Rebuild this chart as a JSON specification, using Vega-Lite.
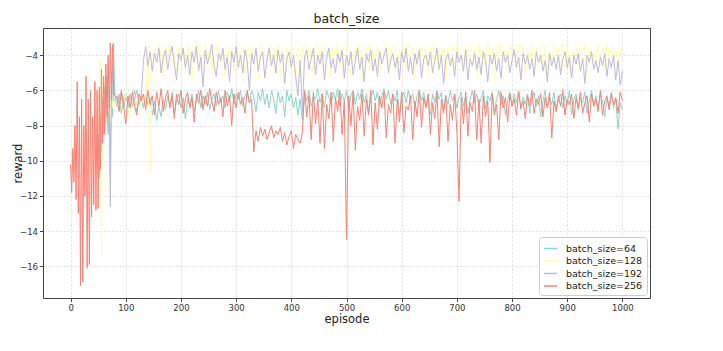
{
"$schema": "https://vega.github.io/schema/vega-lite/v6.json",
"width": 607, "height": 270,
"autosize": {"type": "none"},
"padding": {"left": 43, "top": 28, "right": 73, "bottom": 53},
"background": "white",
"title": {"text": "batch_size", "fontSize": 12.5, "fontWeight": "normal", "font": "DejaVu Sans", "color": "#222", "offset": 3},
"config": {
  "view": {"stroke": "#444", "strokeWidth": 1},
  "axis": {"labelFont": "DejaVu Sans", "labelFontSize": 8.5, "labelColor": "#333", "titleFont": "DejaVu Sans", "titleFontSize": 11.5, "titleFontWeight": "normal", "titleColor": "#222", "tickColor": "#444", "tickSize": 3.5, "domain": false, "gridColor": "#bbb", "gridDash": [2, 2], "gridOpacity": 0.6, "gridWidth": 0.8, "labelPadding": 2}
},
"data": {"values": [
{"e":0,"d":-10.2},{"e":2,"d":-11.8},{"e":4,"d":-9.3},{"e":6,"d":-11.2},{"e":8,"d":-8.0},{"e":10,"d":-12.2},{"e":12,"d":-5.5},{"e":14,"d":-13.0},{"e":16,"d":-7.5},{"e":18,"d":-17.1},{"e":20,"d":-6.5},{"e":22,"d":-16.9},{"e":24,"d":-8.0},{"e":26,"d":-12.0},{"e":28,"d":-5.2},{"e":30,"d":-16.1},{"e":32,"d":-6.5},{"e":34,"d":-15.9},{"e":36,"d":-6.0},{"e":38,"d":-13.2},{"e":40,"d":-7.5},{"e":42,"d":-12.5},{"e":44,"d":-5.5},{"e":46,"d":-12.8},
{"e":48,"a":-10.5,"b":-9.5,"c":-10.0,"d":-6.0},
{"e":50,"a":-9.0,"b":-8.0,"c":-8.5,"d":-12.7},
{"e":52,"a":-11.0,"b":-7.0,"c":-9.8,"d":-5.8},
{"e":54,"a":-8.0,"b":-4.2,"c":-7.5,"d":-10.5},
{"e":56,"a":-9.5,"b":-15.5,"c":-9.0,"d":-4.8},
{"e":58,"a":-7.0,"b":-6.0,"c":-6.5,"d":-9.0},
{"e":60,"a":-8.5,"b":-7.5,"c":-8.0,"d":-5.2},
{"e":62,"a":-6.5,"b":-5.5,"c":-5.8,"d":-8.5},
{"e":64,"a":-7.8,"b":-8.0,"c":-7.0,"d":-4.5},
{"e":66,"a":-5.2,"b":-6.0,"c":-6.0,"d":-7.5},
{"e":68,"a":-8.0,"b":-7.2,"c":-8.5,"d":-4.0},
{"e":70,"a":-6.0,"b":-6.5,"c":-6.8,"d":-7.0},
{"e":72,"a":-10.8,"b":-7.8,"c":-12.6,"d":-3.3},
{"e":74,"a":-5.0,"b":-6.0,"c":-6.0,"d":-6.5},
{"e":76,"a":-7.5,"b":-7.0,"c":-4.5,"d":-3.4},
{"e":78,"a":-3.3,"b":-6.2,"c":-6.5,"d":-6.0},
{"e":80,"a":-6.2,"b":-6.8,"c":-6.6,"d":-6.3},
{"e":84,"a":-6.9,"b":-6.6,"c":-6.3,"d":-6.4},
{"e":88,"a":-6.2,"b":-7.2,"c":-6.8,"d":-7.2},
{"e":92,"a":-7.3,"b":-6.3,"c":-6.1,"d":-6.0},
{"e":96,"a":-6.5,"b":-6.9,"c":-7.0,"d":-6.8},
{"e":100,"a":-6.1,"b":-6.0,"c":-6.4,"d":-7.9},
{"e":104,"a":-7.0,"b":-7.4,"c":-6.7,"d":-6.3},
{"e":108,"a":-6.4,"b":-6.5,"c":-6.2,"d":-7.0},
{"e":112,"a":-6.8,"b":-6.8,"c":-6.9,"d":-6.1},
{"e":116,"a":-6.0,"b":-6.2,"c":-6.5,"d":-6.9},
{"e":120,"a":-7.2,"b":-7.0,"c":-6.0,"d":-7.4},
{"e":124,"a":-6.6,"b":-6.4,"c":-6.8,"d":-6.2},
{"e":128,"a":-6.3,"b":-6.9,"c":-6.4,"d":-6.6},
{"e":132,"a":-7.0,"b":-6.3,"c":-4.3,"d":-6.2},
{"e":136,"a":-6.2,"b":-6.7,"c":-3.5,"d":-7.1},
{"e":140,"a":-6.8,"b":-3.4,"c":-4.6,"d":-6.0},
{"e":144,"a":-6.4,"b":-10.6,"c":-3.8,"d":-6.8},
{"e":148,"a":-7.4,"b":-4.3,"c":-4.9,"d":-6.3},
{"e":152,"a":-6.6,"b":-3.6,"c":-3.9,"d":-7.4},
{"e":156,"a":-7.7,"b":-4.5,"c":-4.4,"d":-6.1},
{"e":160,"a":-6.9,"b":-3.3,"c":-3.6,"d":-6.9},
{"e":164,"a":-7.5,"b":-4.1,"c":-5.0,"d":-5.9},
{"e":168,"a":-6.5,"b":-5.2,"c":-4.1,"d":-7.2},
{"e":172,"a":-7.1,"b":-3.5,"c":-3.7,"d":-6.4},
{"e":176,"a":-6.3,"b":-4.0,"c":-4.8,"d":-6.0},
{"e":180,"a":-6.9,"b":-3.3,"c":-4.0,"d":-7.0},
{"e":184,"a":-6.1,"b":-4.6,"c":-3.5,"d":-6.3},
{"e":188,"a":-7.3,"b":-3.8,"c":-4.5,"d":-7.6},
{"e":192,"a":-6.6,"b":-5.0,"c":-5.4,"d":-6.2},
{"e":196,"a":-6.2,"b":-3.4,"c":-3.9,"d":-6.8},
{"e":200,"a":-7.0,"b":-4.2,"c":-4.3,"d":-6.0},
{"e":204,"a":-6.4,"b":-3.6,"c":-3.6,"d":-7.3},
{"e":208,"a":-7.6,"b":-4.8,"c":-4.7,"d":-6.5},
{"e":212,"a":-6.5,"b":-3.3,"c":-4.0,"d":-6.1},
{"e":216,"a":-6.9,"b":-3.9,"c":-5.1,"d":-7.0},
{"e":220,"a":-6.2,"b":-5.5,"c":-3.8,"d":-6.4},
{"e":224,"a":-7.2,"b":-3.5,"c":-4.4,"d":-7.8},
{"e":228,"a":-6.6,"b":-4.3,"c":-3.5,"d":-6.2},
{"e":232,"a":-6.0,"b":-3.4,"c":-4.9,"d":-6.7},
{"e":236,"a":-7.0,"b":-4.7,"c":-4.1,"d":-6.0},
{"e":240,"a":-6.3,"b":-3.7,"c":-5.8,"d":-7.1},
{"e":244,"a":-6.8,"b":-3.3,"c":-3.7,"d":-6.3},
{"e":248,"a":-6.1,"b":-4.4,"c":-4.5,"d":-6.9},
{"e":252,"a":-7.1,"b":-3.6,"c":-4.0,"d":-5.9},
{"e":256,"a":-6.5,"b":-5.1,"c":-3.4,"d":-6.6},
{"e":260,"a":-6.2,"b":-3.5,"c":-4.6,"d":-7.2},
{"e":264,"a":-6.9,"b":-4.0,"c":-5.2,"d":-6.1},
{"e":268,"a":-6.0,"b":-3.3,"c":-3.9,"d":-6.8},
{"e":272,"a":-6.7,"b":-4.5,"c":-4.3,"d":-6.4},
{"e":276,"a":-6.3,"b":-3.8,"c":-3.6,"d":-7.5},
{"e":280,"a":-7.0,"b":-5.3,"c":-4.8,"d":-6.0},
{"e":284,"a":-6.1,"b":-3.4,"c":-4.1,"d":-6.9},
{"e":288,"a":-6.6,"b":-4.1,"c":-5.5,"d":-6.3},
{"e":292,"a":-5.9,"b":-3.6,"c":-3.8,"d":-8.0},
{"e":296,"a":-6.8,"b":-4.9,"c":-4.4,"d":-6.2},
{"e":300,"a":-6.2,"b":-3.3,"c":-3.5,"d":-7.0},
{"e":304,"a":-6.5,"b":-3.9,"c":-4.7,"d":-6.1},
{"e":308,"a":-6.0,"b":-4.4,"c":-4.0,"d":-6.8},
{"e":312,"a":-6.9,"b":-3.5,"c":-5.0,"d":-6.4},
{"e":316,"a":-6.3,"b":-5.0,"c":-3.7,"d":-7.3},
{"e":320,"a":-6.1,"b":-3.7,"c":-4.3,"d":-6.0},
{"e":324,"a":-6.7,"b":-4.2,"c":-6.0,"d":-6.7},
{"e":328,"a":-6.0,"b":-3.4,"c":-3.9,"d":-6.5},
{"e":332,"a":-6.4,"b":-4.6,"c":-4.5,"d":-9.5},
{"e":336,"a":-7.2,"b":-3.6,"c":-3.6,"d":-8.3},
{"e":340,"a":-6.1,"b":-5.4,"c":-4.9,"d":-8.9},
{"e":344,"a":-6.6,"b":-3.3,"c":-4.1,"d":-8.1},
{"e":348,"a":-5.9,"b":-4.0,"c":-3.8,"d":-8.6},
{"e":352,"a":-6.8,"b":-3.7,"c":-5.3,"d":-8.2},
{"e":356,"a":-6.2,"b":-4.5,"c":-4.2,"d":-8.8},
{"e":360,"a":-7.0,"b":-3.4,"c":-3.6,"d":-8.4},
{"e":364,"a":-6.0,"b":-4.8,"c":-4.6,"d":-8.0},
{"e":368,"a":-6.5,"b":-3.6,"c":-4.0,"d":-8.7},
{"e":372,"a":-7.3,"b":-4.1,"c":-5.0,"d":-8.3},
{"e":376,"a":-6.1,"b":-3.3,"c":-3.7,"d":-8.5},
{"e":380,"a":-6.7,"b":-5.2,"c":-4.4,"d":-8.1},
{"e":384,"a":-6.3,"b":-3.8,"c":-3.9,"d":-8.9},
{"e":388,"a":-7.5,"b":-4.3,"c":-5.6,"d":-8.4},
{"e":392,"a":-6.0,"b":-3.5,"c":-4.2,"d":-9.1},
{"e":396,"a":-6.6,"b":-4.7,"c":-3.8,"d":-8.6},
{"e":400,"a":-6.2,"b":-3.4,"c":-4.7,"d":-8.3},
{"e":404,"a":-7.0,"b":-4.0,"c":-4.0,"d":-9.3},
{"e":408,"a":-6.4,"b":-5.6,"c":-5.2,"d":-8.5},
{"e":412,"a":-7.4,"b":-3.6,"c":-6.3,"d":-8.8},
{"e":416,"a":-6.5,"b":-4.4,"c":-4.3,"d":-9.0},
{"e":420,"a":-7.7,"b":-3.5,"c":-7.2,"d":-8.4},
{"e":424,"a":-6.1,"b":-4.9,"c":-4.1,"d":-6.0},
{"e":428,"a":-6.6,"b":-3.4,"c":-3.7,"d":-7.5},
{"e":432,"a":-6.0,"b":-4.2,"c":-4.8,"d":-6.3},
{"e":436,"a":-6.9,"b":-3.7,"c":-4.2,"d":-8.8},
{"e":440,"a":-6.3,"b":-5.1,"c":-3.6,"d":-6.1},
{"e":444,"a":-6.5,"b":-3.3,"c":-5.1,"d":-7.9},
{"e":448,"a":-5.9,"b":-4.0,"c":-4.0,"d":-6.5},
{"e":452,"a":-6.7,"b":-3.6,"c":-4.5,"d":-9.0},
{"e":456,"a":-6.2,"b":-4.6,"c":-3.8,"d":-6.2},
{"e":460,"a":-7.0,"b":-3.4,"c":-5.4,"d":-9.3},
{"e":464,"a":-6.0,"b":-4.3,"c":-4.1,"d":-6.8},
{"e":468,"a":-6.4,"b":-3.8,"c":-3.6,"d":-7.6},
{"e":472,"a":-6.8,"b":-5.3,"c":-4.7,"d":-6.1},
{"e":476,"a":-6.1,"b":-3.5,"c":-4.2,"d":-8.9},
{"e":480,"a":-6.5,"b":-4.1,"c":-5.0,"d":-6.4},
{"e":484,"a":-5.9,"b":-3.3,"c":-3.9,"d":-7.2},
{"e":488,"a":-6.9,"b":-4.7,"c":-4.4,"d":-6.0},
{"e":492,"a":-6.2,"b":-3.6,"c":-3.7,"d":-8.5},
{"e":496,"a":-6.6,"b":-4.0,"c":-5.3,"d":-6.6},
{"e":500,"a":-6.0,"b":-3.4,"c":-4.0,"d":-14.5},
{"e":504,"a":-7.1,"b":-5.0,"c":-4.6,"d":-6.3},
{"e":508,"a":-6.3,"b":-3.7,"c":-3.8,"d":-8.0},
{"e":512,"a":-6.0,"b":-4.4,"c":-5.1,"d":-6.1},
{"e":516,"a":-6.8,"b":-3.5,"c":-4.3,"d":-9.4},
{"e":520,"a":-6.1,"b":-4.2,"c":-3.6,"d":-6.9},
{"e":524,"a":-6.5,"b":-3.3,"c":-4.8,"d":-7.7},
{"e":528,"a":-5.9,"b":-5.4,"c":-4.1,"d":-6.2},
{"e":532,"a":-6.7,"b":-3.6,"c":-5.5,"d":-8.6},
{"e":536,"a":-6.2,"b":-4.1,"c":-3.9,"d":-6.5},
{"e":540,"a":-7.2,"b":-3.4,"c":-4.4,"d":-7.4},
{"e":544,"a":-6.4,"b":-4.8,"c":-3.7,"d":-6.0},
{"e":548,"a":-6.0,"b":-3.7,"c":-4.9,"d":-9.1},
{"e":552,"a":-6.6,"b":-4.3,"c":-4.2,"d":-6.7},
{"e":556,"a":-6.1,"b":-3.5,"c":-5.2,"d":-8.2},
{"e":560,"a":-6.9,"b":-5.2,"c":-3.8,"d":-6.3},
{"e":564,"a":-6.3,"b":-3.8,"c":-4.5,"d":-7.0},
{"e":568,"a":-5.9,"b":-4.0,"c":-4.0,"d":-6.1},
{"e":572,"a":-6.5,"b":-3.3,"c":-3.6,"d":-8.7},
{"e":576,"a":-6.0,"b":-4.6,"c":-5.0,"d":-6.8},
{"e":580,"a":-6.8,"b":-3.6,"c":-4.3,"d":-7.3},
{"e":584,"a":-6.2,"b":-4.2,"c":-3.9,"d":-6.2},
{"e":588,"a":-6.6,"b":-3.4,"c":-4.7,"d":-9.0},
{"e":592,"a":-6.0,"b":-5.0,"c":-4.1,"d":-6.5},
{"e":596,"a":-7.3,"b":-3.7,"c":-5.4,"d":-7.8},
{"e":600,"a":-6.4,"b":-4.1,"c":-3.8,"d":-6.1},
{"e":604,"a":-6.1,"b":-3.5,"c":-4.4,"d":-8.4},
{"e":608,"a":-6.7,"b":-4.7,"c":-3.6,"d":-6.9},
{"e":612,"a":-6.0,"b":-3.3,"c":-4.9,"d":-7.1},
{"e":616,"a":-6.5,"b":-4.3,"c":-4.1,"d":-6.3},
{"e":620,"a":-6.2,"b":-3.6,"c":-5.1,"d":-8.8},
{"e":624,"a":-7.0,"b":-5.3,"c":-3.9,"d":-6.6},
{"e":628,"a":-6.3,"b":-3.8,"c":-4.5,"d":-7.5},
{"e":632,"a":-6.0,"b":-4.0,"c":-3.7,"d":-6.0},
{"e":636,"a":-6.6,"b":-3.4,"c":-5.3,"d":-8.1},
{"e":640,"a":-6.1,"b":-4.5,"c":-4.2,"d":-6.4},
{"e":644,"a":-6.9,"b":-3.6,"c":-4.0,"d":-7.0},
{"e":648,"a":-6.4,"b":-5.1,"c":-4.6,"d":-6.2},
{"e":652,"a":-7.4,"b":-3.5,"c":-3.8,"d":-8.5},
{"e":656,"a":-6.2,"b":-4.2,"c":-5.0,"d":-6.7},
{"e":660,"a":-6.7,"b":-3.3,"c":-4.3,"d":-7.6},
{"e":664,"a":-6.0,"b":-4.8,"c":-3.6,"d":-6.1},
{"e":668,"a":-6.5,"b":-3.7,"c":-4.8,"d":-9.2},
{"e":672,"a":-6.1,"b":-4.1,"c":-4.0,"d":-6.5},
{"e":676,"a":-7.1,"b":-3.4,"c":-5.6,"d":-7.3},
{"e":680,"a":-6.3,"b":-5.4,"c":-4.2,"d":-6.3},
{"e":684,"a":-6.8,"b":-3.6,"c":-3.9,"d":-8.9},
{"e":688,"a":-6.0,"b":-4.3,"c":-4.6,"d":-6.8},
{"e":692,"a":-6.6,"b":-3.5,"c":-4.1,"d":-7.7},
{"e":696,"a":-6.2,"b":-4.6,"c":-5.2,"d":-6.2},
{"e":700,"a":-7.0,"b":-3.3,"c":-3.8,"d":-8.3},
{"e":704,"a":-6.4,"b":-4.0,"c":-4.4,"d":-12.3},
{"e":708,"a":-6.1,"b":-3.8,"c":-4.0,"d":-6.4},
{"e":712,"a":-6.9,"b":-5.0,"c":-4.9,"d":-7.9},
{"e":716,"a":-6.3,"b":-3.5,"c":-3.7,"d":-6.1},
{"e":720,"a":-7.3,"b":-4.4,"c":-5.4,"d":-8.6},
{"e":724,"a":-6.5,"b":-3.4,"c":-4.2,"d":-6.7},
{"e":728,"a":-6.0,"b":-4.1,"c":-4.6,"d":-7.2},
{"e":732,"a":-6.7,"b":-3.6,"c":-3.9,"d":-6.0},
{"e":736,"a":-6.2,"b":-5.2,"c":-4.8,"d":-8.8},
{"e":740,"a":-6.9,"b":-3.3,"c":-4.1,"d":-6.5},
{"e":744,"a":-6.4,"b":-4.2,"c":-5.1,"d":-9.0},
{"e":748,"a":-6.0,"b":-3.7,"c":-3.8,"d":-6.3},
{"e":752,"a":-7.0,"b":-4.7,"c":-4.3,"d":-7.5},
{"e":756,"a":-6.3,"b":-3.4,"c":-5.5,"d":-6.6},
{"e":760,"a":-6.6,"b":-4.0,"c":-4.0,"d":-10.1},
{"e":764,"a":-6.1,"b":-3.6,"c":-4.5,"d":-6.2},
{"e":768,"a":-7.2,"b":-5.5,"c":-3.9,"d":-7.4},
{"e":772,"a":-6.5,"b":-3.5,"c":-4.9,"d":-6.8},
{"e":776,"a":-6.0,"b":-4.3,"c":-4.2,"d":-8.8},
{"e":780,"a":-6.8,"b":-3.3,"c":-5.3,"d":-6.1},
{"e":784,"a":-6.3,"b":-4.1,"c":-3.8,"d":-7.0},
{"e":788,"a":-7.4,"b":-3.7,"c":-4.4,"d":-6.4},
{"e":792,"a":-6.6,"b":-4.9,"c":-4.0,"d":-7.8},
{"e":796,"a":-6.1,"b":-3.4,"c":-5.0,"d":-6.2},
{"e":800,"a":-6.9,"b":-4.2,"c":-4.3,"d":-6.9},
{"e":804,"a":-6.2,"b":-3.6,"c":-3.7,"d":-6.5},
{"e":808,"a":-6.7,"b":-4.6,"c":-4.7,"d":-7.4},
{"e":812,"a":-6.0,"b":-3.3,"c":-4.1,"d":-6.1},
{"e":816,"a":-7.1,"b":-4.0,"c":-5.4,"d":-7.0},
{"e":820,"a":-6.4,"b":-3.5,"c":-3.9,"d":-6.6},
{"e":824,"a":-6.8,"b":-5.1,"c":-4.5,"d":-7.6},
{"e":828,"a":-6.2,"b":-3.7,"c":-4.0,"d":-6.3},
{"e":832,"a":-7.3,"b":-4.3,"c":-4.8,"d":-6.9},
{"e":836,"a":-6.5,"b":-3.4,"c":-4.2,"d":-6.0},
{"e":840,"a":-6.1,"b":-4.8,"c":-5.2,"d":-7.3},
{"e":844,"a":-6.9,"b":-3.6,"c":-3.8,"d":-6.5},
{"e":848,"a":-6.3,"b":-4.1,"c":-4.4,"d":-6.8},
{"e":852,"a":-7.5,"b":-3.3,"c":-4.0,"d":-6.2},
{"e":856,"a":-6.6,"b":-4.5,"c":-4.9,"d":-7.5},
{"e":860,"a":-6.0,"b":-3.5,"c":-4.3,"d":-6.4},
{"e":864,"a":-7.0,"b":-5.3,"c":-5.5,"d":-7.0},
{"e":868,"a":-6.4,"b":-3.8,"c":-3.9,"d":-6.1},
{"e":872,"a":-6.8,"b":-4.2,"c":-4.6,"d":-8.7},
{"e":876,"a":-6.1,"b":-3.4,"c":-4.1,"d":-6.6},
{"e":880,"a":-7.2,"b":-4.0,"c":-4.8,"d":-7.2},
{"e":884,"a":-6.5,"b":-3.6,"c":-4.0,"d":-6.3},
{"e":888,"a":-6.2,"b":-4.7,"c":-5.1,"d":-6.9},
{"e":892,"a":-7.0,"b":-3.3,"c":-4.2,"d":-6.0},
{"e":896,"a":-6.3,"b":-4.4,"c":-3.8,"d":-7.4},
{"e":900,"a":-6.8,"b":-3.5,"c":-4.7,"d":-6.5},
{"e":904,"a":-6.0,"b":-5.0,"c":-4.1,"d":-6.8},
{"e":908,"a":-7.4,"b":-3.7,"c":-5.3,"d":-6.2},
{"e":912,"a":-6.5,"b":-4.1,"c":-4.0,"d":-7.6},
{"e":916,"a":-6.2,"b":-3.4,"c":-4.5,"d":-6.4},
{"e":920,"a":-7.1,"b":-4.6,"c":-3.9,"d":-7.0},
{"e":924,"a":-6.4,"b":-3.6,"c":-4.9,"d":-6.1},
{"e":928,"a":-6.7,"b":-4.2,"c":-4.2,"d":-7.3},
{"e":932,"a":-6.1,"b":-3.3,"c":-5.6,"d":-6.7},
{"e":936,"a":-7.3,"b":-5.2,"c":-4.0,"d":-6.3},
{"e":940,"a":-6.6,"b":-3.5,"c":-4.4,"d":-7.8},
{"e":944,"a":-6.0,"b":-4.0,"c":-3.8,"d":-6.2},
{"e":948,"a":-6.8,"b":-3.7,"c":-4.8,"d":-6.9},
{"e":952,"a":-6.3,"b":-4.5,"c":-4.3,"d":-6.5},
{"e":956,"a":-7.0,"b":-3.4,"c":-5.0,"d":-7.2},
{"e":960,"a":-6.2,"b":-4.3,"c":-4.1,"d":-6.0},
{"e":964,"a":-6.6,"b":-3.6,"c":-4.6,"d":-7.4},
{"e":968,"a":-7.5,"b":-4.9,"c":-3.9,"d":-6.6},
{"e":972,"a":-6.4,"b":-3.3,"c":-5.2,"d":-6.3},
{"e":976,"a":-6.9,"b":-4.1,"c":-4.2,"d":-7.1},
{"e":980,"a":-6.1,"b":-3.5,"c":-4.7,"d":-6.2},
{"e":984,"a":-7.0,"b":-4.4,"c":-4.0,"d":-6.8},
{"e":988,"a":-6.5,"b":-3.7,"c":-5.4,"d":-6.4},
{"e":992,"a":-8.2,"b":-4.0,"c":-4.3,"d":-7.3},
{"e":996,"a":-6.7,"b":-3.6,"c":-5.7,"d":-6.1},
{"e":1000,"a":-7.1,"b":-4.4,"c":-4.9,"d":-6.6}
]},
"transform": [{"fold": ["a", "b", "c", "d"], "as": ["s", "r"]}, {"filter": "isValid(datum.r)"}],
"encoding": {
  "x": {"field": "e", "type": "quantitative", "scale": {"domain": [-50, 1050], "nice": false, "zero": false}, "axis": {"values": [0, 100, 200, 300, 400, 500, 600, 700, 800, 900, 1000], "format": "d", "title": "episode", "titlePadding": 1}},
  "y": {"field": "r", "type": "quantitative", "scale": {"domain": [-17.8, -2.45], "nice": false, "zero": false}, "axis": {"values": [-16, -14, -12, -10, -8, -6, -4], "title": "reward", "titlePadding": -4}},
  "color": {"field": "s", "type": "nominal", "scale": {"domain": ["a", "b", "c", "d"], "range": ["#8dd3c7", "#ffffb3", "#bebada", "#fb8072"]},
    "legend": {"title": null, "orient": "none", "legendX": 496, "legendY": 209, "symbolType": "stroke", "symbolSize": 169, "symbolStrokeWidth": 1.5, "labelFont": "DejaVu Sans", "labelFontSize": 9.5, "labelColor": "#222", "labelOffset": 8, "rowPadding": 0.5, "padding": 4, "strokeColor": "#ccc", "fillColor": "white", "cornerRadius": 3,
      "labelExpr": "datum.label == 'a' ? 'batch_size=64' : datum.label == 'b' ? 'batch_size=128' : datum.label == 'c' ? 'batch_size=192' : 'batch_size=256'"}}
},
"layer": [
  {"transform": [{"filter": "datum.s == 'a'"}], "mark": {"type": "line", "strokeWidth": 1, "clip": true}},
  {"transform": [{"filter": "datum.s == 'b'"}], "mark": {"type": "line", "strokeWidth": 1, "clip": true}},
  {"transform": [{"filter": "datum.s == 'c'"}], "mark": {"type": "line", "strokeWidth": 1, "clip": true}},
  {"transform": [{"filter": "datum.s == 'd'"}], "mark": {"type": "line", "strokeWidth": 1, "clip": true}}
]
}
